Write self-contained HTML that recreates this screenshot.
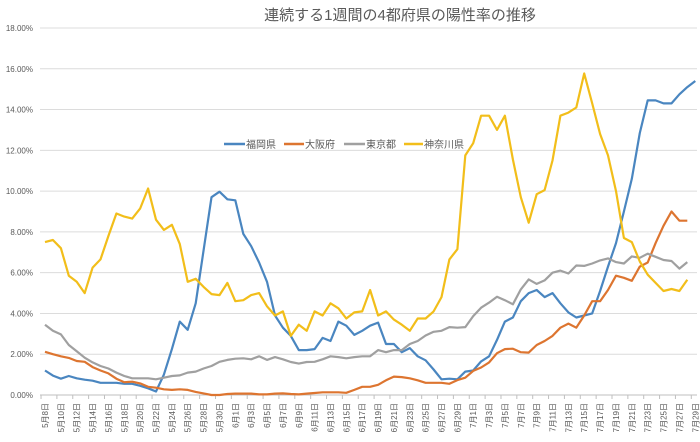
<!DOCTYPE html>
<html><head><meta charset="utf-8"><style>
body{margin:0;background:#fff;width:700px;height:442px;overflow:hidden}
svg{display:block;font-family:"Liberation Sans","Noto Sans CJK JP",sans-serif}
</style></head><body>
<svg id="chart" width="700" height="442" viewBox="0 0 700 442">
<text x="400" y="20" text-anchor="middle" font-size="15" fill="#595959">連続する1週間の4都府県の陽性率の推移</text>
<g id="grid"></g><g id="axes"></g><g id="series"></g>
<g>
<g><line x1="224" y1="144" x2="245" y2="144" stroke="#4a86c0" stroke-width="2.5"/><text x="246" y="148" font-size="10" fill="#595959">福岡県</text></g>
<g><line x1="284" y1="144" x2="304" y2="144" stroke="#dd7530" stroke-width="2.5"/><text x="305" y="148" font-size="10" fill="#595959">大阪府</text></g>
<g><line x1="344" y1="144" x2="365" y2="144" stroke="#a0a0a0" stroke-width="2.5"/><text x="366" y="148" font-size="10" fill="#595959">東京都</text></g>
<g><line x1="404" y1="144" x2="423" y2="144" stroke="#f2be1a" stroke-width="2.5"/><text x="424" y="148" font-size="10" fill="#595959">神奈川県</text></g>
</g>
</svg>
<script>
const yTicks=[0,2,4,6,8,10,12,14,16,18];
const fukuoka=[1.2,0.95,0.8,0.93,0.82,0.75,0.7,0.6,0.6,0.6,0.55,0.55,0.45,0.33,0.17,1.0,2.25,3.6,3.2,4.5,7.1,9.7,9.97,9.6,9.55,7.9,7.3,6.5,5.55,3.9,3.3,2.9,2.2,2.2,2.25,2.8,2.65,3.6,3.4,2.95,3.15,3.4,3.55,2.5,2.5,2.1,2.3,1.9,1.7,1.25,0.77,0.8,0.77,1.15,1.2,1.65,1.9,2.7,3.6,3.8,4.6,5.0,5.15,4.8,5.0,4.5,4.05,3.8,3.9,4.0,5.1,6.3,7.45,9.0,10.6,12.85,14.45,14.45,14.3,14.3,14.75,15.1,15.4];
const osaka=[2.12,2.0,1.9,1.82,1.67,1.63,1.37,1.2,1.06,0.8,0.63,0.65,0.57,0.4,0.36,0.28,0.25,0.28,0.25,0.15,0.08,0.0,0.0,0.05,0.07,0.07,0.07,0.03,0.03,0.07,0.08,0.05,0.03,0.07,0.1,0.13,0.13,0.13,0.11,0.25,0.4,0.4,0.5,0.72,0.9,0.88,0.82,0.72,0.6,0.6,0.6,0.55,0.73,0.85,1.18,1.35,1.6,2.05,2.25,2.27,2.1,2.08,2.45,2.65,2.9,3.3,3.5,3.3,3.9,4.6,4.6,5.15,5.85,5.75,5.6,6.3,6.5,7.45,8.3,9.0,8.55,8.55,null];
const tokyo=[3.45,3.15,2.97,2.45,2.15,1.83,1.6,1.42,1.3,1.1,0.93,0.82,0.82,0.82,0.77,0.85,0.93,0.96,1.1,1.15,1.3,1.42,1.63,1.72,1.78,1.8,1.75,1.9,1.72,1.86,1.75,1.62,1.54,1.62,1.63,1.75,1.9,1.86,1.8,1.86,1.9,1.9,2.2,2.1,2.2,2.2,2.5,2.65,2.92,3.1,3.15,3.33,3.3,3.33,3.87,4.28,4.53,4.82,4.65,4.45,5.18,5.67,5.45,5.62,6.0,6.1,5.96,6.35,6.33,6.45,6.6,6.7,6.52,6.45,6.8,6.73,6.93,6.78,6.62,6.57,6.2,6.52,null];
const kanagawa=[7.5,7.6,7.2,5.85,5.55,5.0,6.25,6.65,7.8,8.9,8.75,8.65,9.15,10.13,8.6,8.1,8.35,7.4,5.55,5.7,5.3,4.95,4.9,5.5,4.6,4.65,4.9,5.0,4.35,3.9,4.1,2.9,3.45,3.15,4.1,3.9,4.5,4.25,3.75,4.05,4.1,5.15,3.9,4.1,3.7,3.45,3.15,3.75,3.75,4.1,4.8,6.65,7.15,11.75,12.35,13.7,13.7,13.0,13.7,11.55,9.7,8.45,9.85,10.05,11.5,13.7,13.85,14.1,15.77,14.3,12.8,11.75,10.0,7.7,7.5,6.55,5.9,5.5,5.1,5.2,5.1,5.65,null];
const NS="http://www.w3.org/2000/svg";
const svg=document.getElementById('chart');
const x0=45,step=7.93,yBase=395,yTop=28,ymax=18;
const X=i=>x0+i*step;
const Y=v=>yBase-(v/ymax)*(yBase-yTop);
function mk(tag,attrs,parent){const e=document.createElementNS(NS,tag);for(const k in attrs)e.setAttribute(k,attrs[k]);parent.appendChild(e);return e;}
const grid=document.getElementById('grid'),axes=document.getElementById('axes'),ser=document.getElementById('series');
yTicks.forEach(t=>{
 const l=mk('line',{x1:40,x2:697,y1:Y(t),y2:Y(t),stroke:t===0?'#bfbfbf':'#dcdcdc','stroke-width':1},grid);
 
 
 const tx=mk('text',{x:33,y:Y(t)+3,'text-anchor':'end','font-size':8,fill:'#595959'},axes);
 tx.textContent=t.toFixed(2)+'%';
 
 
});
const start=new Date(2020,4,8);
for(let i=0;i<fukuoka.length;i+=2){
 const d=new Date(start.getTime()+i*86400000);
 const lab=(d.getMonth()+1)+'月'+d.getDate()+'日';
 const tk=mk('line',{x1:X(i)-step/2,x2:X(i)-step/2,y1:yBase,y2:yBase+4,stroke:'#bfbfbf'},axes);
 
 
 const tx=mk('text',{transform:`translate(${X(i)+3},${403}) rotate(-90)`,'text-anchor':'end','font-size':8,fill:'#595959'},axes);
 tx.textContent=lab;
 
 
}
[[fukuoka,'#4a86c0','fukuoka'],[osaka,'#dd7530','osaka'],[tokyo,'#a0a0a0','tokyo'],[kanagawa,'#f2be1a','kanagawa']].forEach(([arr,c,n])=>{
 const pts=[];arr.forEach((v,i)=>{if(v!==null)pts.push(X(i).toFixed(1)+','+Y(v).toFixed(1));});
 const p=mk('polyline',{points:pts.join(' '),fill:'none',stroke:c,'stroke-width':2.2,'stroke-linejoin':'round'},ser);
 
 
});
</script>
</body></html>
